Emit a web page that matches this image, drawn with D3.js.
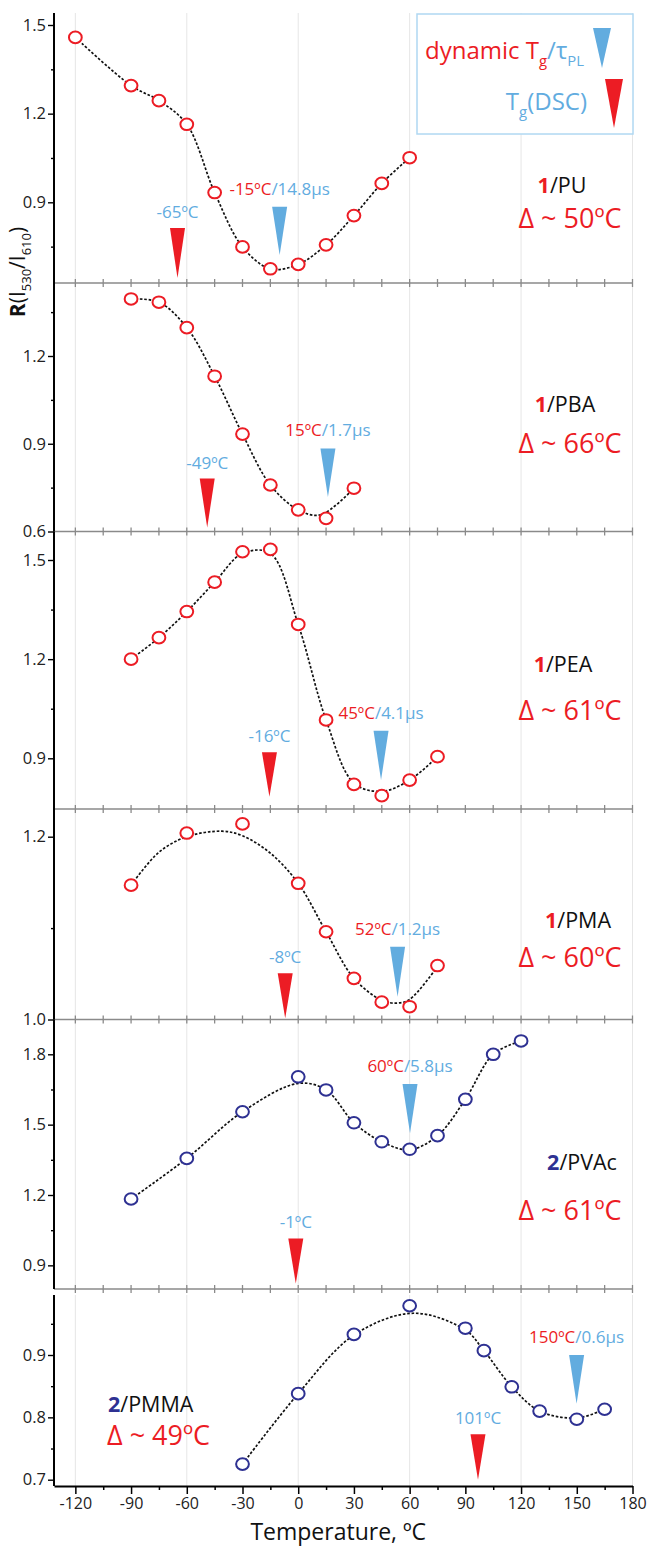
<!DOCTYPE html>
<html><head><meta charset="utf-8">
<script src="https://cdn.jsdelivr.net/npm/d3@7"></script>
<style>
body{margin:0;background:#fff}
svg{display:block}
text{font-family:"Open Sans",sans-serif}
</style>
</head><body>
<svg id="c" width="651" height="1548"></svg>
<script>
// ---------------- DATA ----------------
const TEMP_TICKS = [-120,-90,-60,-30,0,30,60,90,120,150,180];
const TEMP_MINOR = [-105,-75,-45,-15,15,45,75,105,135,165];
const GRID_T = [-120,-60,0,60,120,180];

const PANEL_NAMES = ["PU","PBA","PEA","PMA","PVAc","PMMA"];
const PANEL_PROBE = ["1","1","1","1","2","2"];
const DELTA_LABELS = ["Δ ~ 50ºC","Δ ~ 66ºC","Δ ~ 61ºC","Δ ~ 60ºC","Δ ~ 61ºC","Δ ~ 49ºC"];

// measured points
const T_PU  = [-120,-90,-75,-60,-45,-30,-15,0,15,30,45,60];
const R_PU  = [1.458,1.295,1.244,1.164,0.933,0.749,0.675,0.690,0.756,0.855,0.964,1.051];
const T_PBA = [-90,-75,-60,-45,-30,-15,0,15,30];
const R_PBA = [1.395,1.384,1.297,1.131,0.933,0.759,0.674,0.645,0.748];
const T_PEA = [-90,-75,-60,-45,-30,-15,0,15,30,45,60,75];
const R_PEA = [1.200,1.265,1.344,1.433,1.525,1.532,1.305,1.016,0.821,0.787,0.834,0.905];
const T_PMA = [-90,-60,-30,0,15,30,45,60,75];
const R_PMA = [1.147,1.204,1.214,1.149,1.096,1.045,1.019,1.014,1.059];
const T_PVAC = [-90,-60,-30,0,15,30,45,60,75,90,105,120];
const R_PVAC = [1.183,1.356,1.555,1.704,1.648,1.508,1.427,1.395,1.453,1.608,1.800,1.857];
const T_PMMA = [-30,0,30,60,90,100,115,130,150,165];
const R_PMMA = [0.725,0.838,0.933,0.979,0.943,0.907,0.849,0.810,0.797,0.813];

// smooth guide curves
const FT_PU  = T_PU,  FR_PU = R_PU;
const FT_PBA = [-90,-75,-60,-45,-30,-15,0,12,30];
const FR_PBA = [1.395,1.384,1.297,1.131,0.933,0.759,0.674,0.657,0.748];
const FT_PEA = [-90,-75,-60,-45,-30,-15,0,15,30,45,60,75];
const FR_PEA = [1.200,1.265,1.344,1.433,1.520,1.520,1.305,1.016,0.825,0.800,0.834,0.905];
const FT_PMA = [-90,-75,-60,-41,-30,-15,0,15,30,45,53,60,75];
const FR_PMA = [1.147,1.183,1.200,1.206,1.201,1.182,1.149,1.096,1.045,1.021,1.018,1.022,1.058];
const FT_PVAC = [-90,-60,-30,0,15,30,45,60,75,90,105,120];
const FR_PVAC = [1.183,1.356,1.555,1.676,1.648,1.508,1.427,1.393,1.453,1.608,1.800,1.857];
const FT_PMMA = [-30,0,30,62,90,100,115,130,150,165];
const FR_PMMA = [0.725,0.838,0.932,0.967,0.940,0.907,0.849,0.810,0.799,0.813];

// glass transition markers
const DSC_T = [-65,-49,-15.5,-7,-1.3,96.8];
const DSC_LABEL = ["-65ºC","-49ºC","-16ºC","-8ºC","-1ºC","101ºC"];
const DYN_T = [-10,16,44.6,53.5,60.2,149.9];
const DYN_LABEL_T = ["-15ºC","15ºC","45ºC","52ºC","60ºC","150ºC"];
const DYN_LABEL_TAU = ["/14.8μs","/1.7μs","/4.1μs","/1.2μs","/5.8μs","/0.6μs"];

const Y_MAJOR = [[0.9,1.2,1.5],[0.6,0.9,1.2],[0.9,1.2,1.5],[1.0,1.2],[0.9,1.2,1.5,1.8],[0.7,0.8,0.9]];
const Y_MINOR = [[0.75,1.05,1.35],[0.75,1.05,1.35],[1.05,1.35],[1.1],[1.05,1.35,1.65],[0.75,0.85,0.95]];

// ---------------- STYLE / LAYOUT ----------------
const RED = "#ec1c24", NAVY = "#2e3192", BLUE = "#62acdf", GREY = "#8a8a8a";
const X0 = 54, X1 = 632.5;
const LAYOUT = [
  {refs:[[0.9,202.3],[1.5,25]],   top:13,    bottom:283,   color:RED,
   dsc:[0.813,0.644], dyn:[0.885,0.722], name:[562,193.3,"middle"], delta:[570,228,"middle"]},
  {refs:[[0.6,531.5],[1.2,356]],  top:283,   bottom:531.5, color:RED,
   dsc:[0.781,0.614], dyn:[0.884,0.718], name:[565,411.7,"middle"], delta:[570,453.3,"middle"]},
  {refs:[[0.9,758.3],[1.5,560]],  top:531.5, bottom:809,   color:RED,
   dsc:[0.918,0.784], dyn:[0.983,0.834], name:[563,671.7,"middle"], delta:[570,720,"middle"]},
  {refs:[[1.0,1019.5],[1.2,836.7]], top:809, bottom:1019.5, color:RED,
   dsc:[1.0505,1.0013], dyn:[1.0797,1.0249], name:[578,928.3,"middle"], delta:[570,966.7,"middle"]},
  {refs:[[1.2,1195],[1.8,1054.3]], top:1019.5, bottom:1289, color:NAVY,
   dsc:[1.015,0.823], dyn:[1.673,1.463], name:[582,1170,"middle"], delta:[570,1220,"middle"]},
  {refs:[[0.7,1479.7],[0.9,1355]], top:1295, bottom:1486, color:NAVY,
   dsc:[0.773,0.700], dyn:[0.900,0.822], name:[108,1411.7,"start"], delta:[107,1445,"start"]}
];

const DATA = [
  [T_PU,R_PU,FT_PU,FR_PU],[T_PBA,R_PBA,FT_PBA,FR_PBA],[T_PEA,R_PEA,FT_PEA,FR_PEA],
  [T_PMA,R_PMA,FT_PMA,FR_PMA],[T_PVAC,R_PVAC,FT_PVAC,FR_PVAC],[T_PMMA,R_PMMA,FT_PMMA,FR_PMMA]
];

// ---------------- DRAW ----------------
const svg = d3.select("#c");
const x = d3.scaleLinear().domain([-131.5,180]).range([X0,X1]);
const fmt1 = d => d.toFixed(1);
const fmtT = d => String(d);

function rich(g, px, py, parts, size, anchor){
  const t = g.append("text").attr("x",px).attr("y",py).attr("font-size",size).attr("text-anchor",anchor||"start");
  let shift = 0;
  parts.forEach(p=>{
    const ts = t.append("tspan").text(p.t).attr("fill",p.fill||"#111");
    if(p.bold) ts.attr("font-weight","bold");
    const want = p.sub ? size*0.28 : 0;
    if(want!==shift){ ts.attr("dy", want-shift); shift = want; }
    if(p.sub) ts.attr("font-size", size*0.62);
  });
  return t;
}

const gridG = svg.append("g");
const sepG = svg.append("g");
const axG = svg.append("g");
const markG = svg.append("g");
const txtG = svg.append("g");

LAYOUT.forEach((L,i)=>{
  const y = d3.scaleLinear().domain([L.refs[0][0],L.refs[1][0]]).range([L.refs[0][1],L.refs[1][1]]);
  const [T,R,FT,FR] = DATA[i];

  gridG.append("g").selectAll("line").data(GRID_T).join("line")
    .attr("x1",d=>x(d)).attr("x2",d=>x(d)).attr("y1",L.top).attr("y2",L.bottom)
    .attr("stroke","#e6e6e6").attr("stroke-width",1);

  if(i<5){
    sepG.append("line").attr("x1",X0).attr("x2",X1).attr("y1",L.bottom).attr("y2",L.bottom)
      .attr("stroke",GREY).attr("stroke-width",1.6);
    sepG.append("g").selectAll("line").data(d3.range(-120,181,15)).join("line")
      .attr("x1",d=>x(d)).attr("x2",d=>x(d)).attr("y1",L.bottom-4).attr("y2",L.bottom+4)
      .attr("stroke",GREY).attr("stroke-width",1.3);
  }

  const major = axG.append("g").attr("transform",`translate(${X0},0)`)
    .call(d3.axisLeft(y).tickValues(Y_MAJOR[i]).tickSize(6).tickPadding(2).tickFormat(fmt1));
  const minor = axG.append("g").attr("transform",`translate(${X0},0)`)
    .call(d3.axisLeft(y).tickValues(Y_MINOR[i]).tickSize(3).tickFormat(""));
  [major,minor].forEach(a=>{
    a.select(".domain").remove();
    a.selectAll("line").attr("stroke","#000").attr("stroke-width",1.4);
    a.selectAll("text").attr("font-family","Open Sans").attr("font-size",16.5).attr("fill","#222");
  });
  axG.append("line").attr("x1",X0).attr("x2",X0).attr("y1",L.top).attr("y2",L.bottom)
    .attr("stroke","#000").attr("stroke-width",2);

  const line = d3.line().x(d=>x(d[0])).y(d=>y(d[1])).curve(d3.curveCatmullRom.alpha(0.5));
  markG.append("path").attr("d",line(d3.zip(FT,FR)))
    .attr("fill","none").attr("stroke","#111").attr("stroke-width",1.7).attr("stroke-dasharray","2.6,1.8");

  const tri = (xc,top,tip,w)=>`M${xc-w/2},${top}L${xc+w/2},${top}L${xc},${tip}Z`;
  markG.append("path").attr("d",tri(x(DSC_T[i]),y(L.dsc[0]),y(L.dsc[1]),15)).attr("fill",RED);
  markG.append("path").attr("d",tri(x(DYN_T[i]),y(L.dyn[0]),y(L.dyn[1]),15)).attr("fill",BLUE);

  markG.append("g").selectAll("ellipse").data(d3.zip(T,R)).join("ellipse")
    .attr("cx",d=>x(d[0])).attr("cy",d=>y(d[1])).attr("rx",6.4).attr("ry",5.8)
    .attr("fill","#fff").attr("stroke",L.color).attr("stroke-width",2);

  rich(txtG, x(DSC_T[i]), y(L.dsc[0])-10, [{t:DSC_LABEL[i],fill:BLUE}], 17, "middle");
  rich(txtG, x(DYN_T[i]), y(L.dyn[0])-12, [{t:DYN_LABEL_T[i],fill:RED},{t:DYN_LABEL_TAU[i],fill:BLUE}], 17, "middle");

  rich(txtG, L.name[0], L.name[1], [{t:PANEL_PROBE[i],fill:L.color,bold:true},{t:"/"+PANEL_NAMES[i],fill:"#111"}], 21.5, L.name[2]);
  rich(txtG, L.delta[0], L.delta[1], [{t:DELTA_LABELS[i],fill:RED}], 27, L.delta[2]);
});

// bottom x axis
const yBot = LAYOUT[5].bottom;
const xa = axG.append("g").attr("transform",`translate(0,${yBot})`)
  .call(d3.axisBottom(x).tickValues(TEMP_TICKS).tickSize(8).tickSizeOuter(0).tickPadding(4).tickFormat(fmtT));
xa.select(".domain").attr("stroke","#000").attr("stroke-width",2);
xa.selectAll("line").attr("stroke","#000").attr("stroke-width",1.5);
xa.selectAll("text").attr("font-family","Open Sans").attr("font-size",16).attr("fill","#222");
const xm = axG.append("g").attr("transform",`translate(0,${yBot})`)
  .call(d3.axisBottom(x).tickValues(TEMP_MINOR).tickSize(4).tickSizeOuter(0).tickFormat(""));
xm.select(".domain").remove();
xm.selectAll("line").attr("stroke","#000").attr("stroke-width",1.5);

// axis titles
txtG.append("text").attr("x",(X0+X1)/2-5).attr("y",1540).attr("text-anchor","middle")
  .attr("font-size",23).attr("fill","#111").text("Temperature, ºC");
const yt = txtG.append("g").attr("transform","translate(25,272) rotate(-90)");
rich(yt, 0, 0, [{t:"R",bold:true},{t:"(I"},{t:"530",sub:true},{t:"/I"},{t:"610",sub:true},{t:")"}], 21, "middle");

// legend
const lg = svg.append("g");
lg.append("rect").attr("x",417).attr("y",14).attr("width",216).attr("height",120)
  .attr("fill","#fff").attr("stroke","#b0d8f2").attr("stroke-width",1.5);
rich(lg, 425, 59.3, [{t:"dynamic T",fill:RED},{t:"g",fill:RED,sub:true},{t:"/τ",fill:BLUE},{t:"PL",fill:BLUE,sub:true}], 24, "start");
rich(lg, 587, 110, [{t:"T",fill:BLUE},{t:"g",fill:BLUE,sub:true},{t:"(DSC)",fill:BLUE}], 24, "end");
lg.append("path").attr("d",`M593,28L611,28L602,68Z`).attr("fill",BLUE);
lg.append("path").attr("d",`M605,79L623,79L614,128Z`).attr("fill",RED);
</script>
</body></html>
